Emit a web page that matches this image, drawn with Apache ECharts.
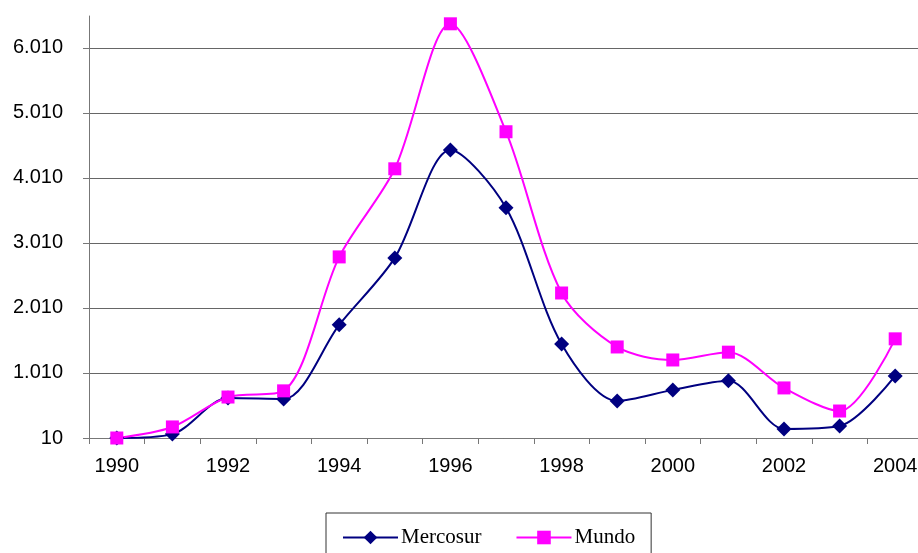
<!DOCTYPE html>
<html>
<head>
<meta charset="utf-8">
<script src="https://cdn.jsdelivr.net/npm/echarts@6/dist/echarts.min.js"></script>
<style>
  html, body { margin: 0; padding: 0; background: #fff; }
  #chart { width: 918px; height: 553px; }
</style>
</head>
<body>
<div id="chart"></div>
<script>
// años del eje x
const years = ['1990', '1991', '1992', '1993', '1994', '1995', '1996', '1997',
  '1998', '1999', '2000', '2001', '2002', '2003', '2004']
// valores
const mercosur = [10, 70, 625, 610, 1750, 2780, 4440, 3550, 1455, 580, 750, 890, 150, 195, 965]
const mundo = [10, 180, 640, 735, 2795, 4150, 6380, 4720, 2240, 1410, 1210, 1330, 780, 425, 1535]

const chart = echarts.init(document.getElementById('chart'))

// 1010 -> "1.010"
function fmt (v) {
  if (v < 1000) return String(v)
  return Math.floor(v / 1000) + '.' + String(v % 1000).padStart(3, '0')
}

const option = {
  animation: false,
  grid: { left: 89, right: -5, top: 16, bottom: 115, outerBoundsMode: 'none' },
  legend: {
    bottom: -25,
    left: 326,
    padding: [14, 16, 30, 16],
    borderColor: '#333',
    borderWidth: 1,
    itemWidth: 55,
    itemHeight: 17,
    itemGap: 34,
    textStyle: { fontFamily: 'Liberation Serif', fontSize: 21, color: '#000', padding: [0, 0, 0, -2] },
    data: ['Mercosur', 'Mundo']
  },
  xAxis: {
    type: 'category',
    data: years,
    boundaryGap: true,
    axisLine: { lineStyle: { color: '#777', width: 1 } },
    axisTick: { show: true, interval: 0, length: 6, alignWithLabel: false, lineStyle: { color: '#777' } },
    axisLabel: { interval: 1, margin: 18, fontFamily: 'Liberation Sans', fontSize: 20, color: '#000' },
    splitLine: { show: false }
  },
  yAxis: {
    type: 'value',
    min: 10,
    max: 6500,
    interval: 1000,
    axisLine: { show: true, lineStyle: { color: '#777', width: 1 } },
    axisTick: { show: true, length: 6, lineStyle: { color: '#777' } },
    axisLabel: { margin: 26, showMaxLabel: false, fontFamily: 'Liberation Sans', fontSize: 20, color: '#000', formatter: fmt },
    splitLine: { show: true, showMaxLine: false, lineStyle: { color: '#666', width: 1 } }
  },
  series: [
    {
      name: 'Mercosur',
      type: 'line',
      data: mercosur,
      smooth: 0.3,
      symbol: 'diamond',
      symbolSize: 15,
      itemStyle: { color: '#000080' },
      lineStyle: { color: '#000080', width: 2 }
    },
    {
      name: 'Mundo',
      type: 'line',
      data: mundo,
      smooth: 0.3,
      symbol: 'rect',
      symbolSize: 13,
      itemStyle: { color: '#ff00ff' },
      lineStyle: { color: '#ff00ff', width: 2 }
    }
  ]
}
chart.setOption(option)
</script>
</body>
</html>
